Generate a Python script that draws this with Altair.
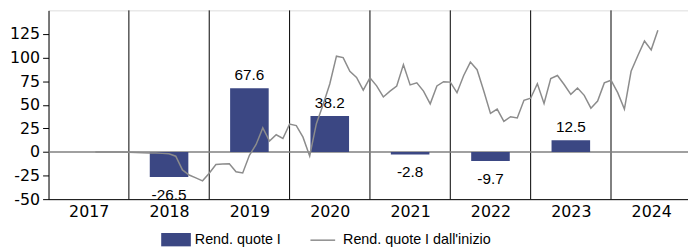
import altair as alt
import pandas as pd

# ---- data ----
years = [2017, 2018, 2019, 2020, 2021, 2022, 2023, 2024]
bar_years = [2018, 2019, 2020, 2021, 2022, 2023]
bar_values = [-26.5, 67.6, 38.2, -2.8, -9.7, 12.5]

# monthly cumulative return since inception (month-end), Jul 2017 .. Jul 2024
line_start = "2017-07"
line_values = [
    0, 0, 0, 0, 0, -0.3,                                   # 2017 Jul-Dec
    -0.5, -0.8, -1, -1.2, -1.5, -2, -4.5, -19, -24.4, -27.5, -30.6, -22.6,   # 2018
    -13.3, -12.7, -12.5, -21, -22.3, -3.5, 8, 25.5, 11.5, 18.2, 14.3, 29.5,  # 2019
    28, 15.7, -4.3, 30, 50, 72, 101.5, 100, 85.5, 79, 65.5, 78.5,            # 2020
    70, 58.3, 64.5, 69.8, 92.5, 71, 73.2, 64.5, 51, 70, 74.5, 74,            # 2021
    62.8, 81, 95.2, 87.2, 64.5, 40.8, 45.4, 32.4, 37.3, 36, 54.8, 56.9,      # 2022
    72.2, 51.3, 77.8, 81, 71.5, 61, 67.7, 60, 46.4, 54, 73.2, 76,            # 2023
    62.8, 45.4, 85.5, 102, 117.6, 108.2, 129,                                # 2024
]
y_ticks = [-50, -25, 0, 25, 50, 75, 100, 125]

bar_name = "Rend. quote I"
line_name = "Rend. quote I dall'inizio"

months = pd.period_range(line_start, periods=len(line_values), freq="M")
line_df = pd.DataFrame({
    "x": [p.year + p.month / 12 for p in months],
    "v": line_values,
    "serie": line_name,
})
bar_df = pd.DataFrame({"year": bar_years, "value": bar_values, "serie": bar_name})
sep_df = pd.DataFrame({"year": years[1:]})
zero_df = pd.DataFrame({"v": [0]})

W, H = 647, 191
PX_PER_YEAR = 81.3
xscale = alt.Scale(domain=[2017, 2017 + W / PX_PER_YEAR], nice=False, zero=False)
yscale = alt.Scale(domain=[-50, 150], nice=False, zero=False)

AXIS_FONT = "DejaVu Sans"
TEXT_FONT = "Liberation Sans"

x_axis = alt.Axis(
    values=[y + 0.5 for y in years], labelExpr="'' + floor(datum.value)",
    ticks=False, grid=False, title=None, domainColor="black", domainWidth=1,
    labelFont=AXIS_FONT, labelFontSize=16, labelColor="black", labelPadding=5,
    labelFlush=False, labelOverlap=False,
)
y_axis = alt.Axis(
    values=y_ticks, labelExpr="'' + datum.value", labelOverlap=False,
    labelBound=False, labelFlush=False,
    grid=False, title=None, domainColor="black", domainWidth=1,
    tickColor="black", tickSize=6, labelFont=AXIS_FONT, labelFontSize=16,
    labelColor="black", labelPadding=3,
)

LABEL_EXPR = "(datum.value < 0 ? '-' : '') + format(abs(datum.value), '.1f')"


def X(field):
    return alt.X(field, scale=xscale, axis=x_axis)


def Y(field):
    return alt.Y(field, scale=yscale, axis=y_axis)


seps = alt.Chart(sep_df).mark_rule(color="black", strokeWidth=1).encode(
    x=X("year:Q")
)

zero = alt.Chart(zero_df).mark_rule(color="#808080", strokeWidth=1.5).encode(
    y=Y("v:Q")
)

bars = alt.Chart(bar_df).transform_calculate(
    x0="datum.year + 0.26", x1="datum.year + 0.74", zero="0"
).mark_bar(opacity=1).encode(
    x=X("x0:Q"),
    x2="x1:Q",
    y=Y("value:Q"),
    y2="zero:Q",
    color=alt.Color(
        "serie:N",
        scale=alt.Scale(domain=[bar_name], range=["#3b4783"]),
        legend=alt.Legend(
            orient="none", legendX=114, legendY=217, title=None, padding=0,
            symbolType="M-1,-0.45L1,-0.45L1,0.45L-1,0.45Z", symbolSize=900,
            symbolStrokeWidth=0, symbolOpacity=1, labelOffset=4,
            labelFont=TEXT_FONT, labelFontSize=14.5, labelColor="black",
        ),
    ),
)

pos_text = alt.Chart(bar_df).transform_filter("datum.value >= 0").transform_calculate(
    xc="datum.year + 0.5", lab=LABEL_EXPR
).mark_text(baseline="bottom", dy=-5, font=TEXT_FONT, fontSize=15.5, color="black").encode(
    x=X("xc:Q"), y=Y("value:Q"), text="lab:N",
)
neg_text = alt.Chart(bar_df).transform_filter("datum.value < 0").transform_calculate(
    xc="datum.year + 0.5", lab=LABEL_EXPR
).mark_text(baseline="top", dy=11, font=TEXT_FONT, fontSize=15.5, color="black").encode(
    x=X("xc:Q"), y=Y("value:Q"), text="lab:N",
)

line = alt.Chart(line_df).mark_line(strokeWidth=1.5).encode(
    x=X("x:Q"),
    y=Y("v:Q"),
    stroke=alt.Stroke(
        "serie:N",
        scale=alt.Scale(domain=[line_name], range=["#8c8c8c"]),
        legend=alt.Legend(
            orient="none", legendX=264, legendY=219, title=None, padding=0,
            symbolType="stroke", symbolSize=625, symbolStrokeWidth=1.5,
            labelOffset=7, labelFont=TEXT_FONT, labelFontSize=14.5,
            labelColor="black",
        ),
    ),
)

chart = alt.layer(seps, zero, bars, pos_text, neg_text, line).properties(
    width=W, height=H,
    autosize=alt.AutoSizeParams(type="none"),
    padding={"left": 41, "top": 1, "right": 0, "bottom": 47},
).configure_view(stroke=None).configure_axisY(labelOverlap=False).configure(
    background="white"
)

chart.save("out.html", embed_options={"renderer": "svg", "actions": False})
